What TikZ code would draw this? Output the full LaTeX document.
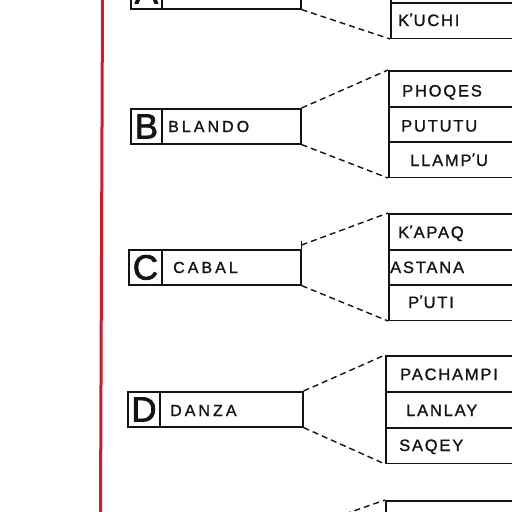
\documentclass[tikz,border=0pt]{standalone}
\usepackage{fontspec}
\setmainfont{Liberation Sans}
\newfontfamily\djv{DejaVu Sans}
\definecolor{redline}{RGB}{210,25,45}
\definecolor{ink}{RGB}{20,20,20}
\newcommand{\ap}{\kern-0.3pt{\djv\fontsize{14}{14}\selectfont\addfontfeature{FakeBold=1.5}\raisebox{2.5pt}{ʼ}}\kern0.3pt}
\begin{document}
\begin{tikzpicture}[x=1pt,y=-1pt,
  lbox/.style={draw=ink,line width=1.6pt,anchor=north west,inner sep=0pt,minimum height=35pt},
  cell/.style={draw=ink,line width=1.9pt,anchor=north west,inner sep=0pt,minimum height=35pt,text=ink,font=\fontsize{35}{35}\selectfont\addfontfeature{FakeBold=2}},
  rbox/.style={draw=ink,line width=1.5pt,anchor=north west,inner sep=0pt,minimum width=140pt,minimum height=35.5pt},
  rword/.style={anchor=base west,inner sep=0pt,text=ink,font=\fontsize{16.5}{16}\selectfont\addfontfeature{LetterSpace=11,FakeBold=1.2}},
  lword/.style={anchor=base west,inner sep=0pt,text=ink,font=\fontsize{16}{16}\selectfont\addfontfeature{LetterSpace=19,FakeBold=1.2}},
  conn/.style={draw=ink,line width=1.4pt,dash pattern=on 6pt off 4pt}]
\useasboundingbox (0,0) rectangle (512,512);
\clip (0,0) rectangle (512,512);
\fill[white] (0,0) rectangle (512,512);
% red margin line
\draw[redline,line width=3pt] (102.5,-2) -- (100.5,514);

% ---- A ----
\node[lbox,minimum width=170pt] (Abox) at (130,-27) {};
\node[cell,minimum width=31pt] (Acell) at (130,-27) {A};
\node[rbox] (A0) at (390,-34) {};
\node[rbox] (A1) at (390,2) {};
\node[rword] (A1t) at (398,26) {K\ap UCHI};
\draw[conn] (Abox.south east) -- (A1.south west);

% ---- B ----
\node[lbox,minimum width=170pt] (Bbox) at (130,108) {};
\node[cell,minimum width=31pt] (Bcell) at (130,108) {B};
\node[lword] (Bw) at (168,132) {BLANDO};
\node[rbox] (B1) at (388,70) {};
\node[rbox] (B2) at (388,106) {};
\node[rbox] (B3) at (388,141) {};
\node[rword] (B1t) at (402,96.5) {PHOQES};
\node[rword] (B2t) at (401,131.5) {PUTUTU};
\node[rword] (B3t) at (410,166) {LLAMP\ap U};
\draw[conn] (Bbox.north east) -- (B1.north west);
\draw[conn] (Bbox.south east) -- (B3.south west);

% ---- C ----
\node[lbox,minimum width=172pt] (Cbox) at (128,249) {};
\node[cell,minimum width=33pt] (Ccell) at (128,249) {C};
\node[lword] (Cw) at (173,273) {CABAL};
\node[rbox] (C1) at (388,213) {};
\node[rbox] (C2) at (388,249) {};
\node[rbox] (C3) at (388,284) {};
\node[rword] (C1t) at (398,238) {K\ap APAQ};
\node[rword] (C2t) at (390,273) {ASTANA};
\node[rword] (C3t) at (408,308) {P\ap UTI};
\draw[line width=1.5pt,ink] (Cbox.north east) -- ++(0,-8);
\draw[conn] ([yshift=4pt]Cbox.north east) -- (C1.north west);
\draw[conn] (Cbox.south east) -- (C3.south west);

% ---- D ----
\node[lbox,minimum width=175pt] (Dbox) at (127,391) {};
\node[cell,minimum width=32pt] (Dcell) at (127,391) {D};
\node[lword] (Dw) at (170,416) {DANZA};
\node[rbox] (D1) at (385,355) {};
\node[rbox] (D2) at (385,391) {};
\node[rbox] (D3) at (385,427) {};
\node[rword] (D1t) at (400,380) {PACHAMPI};
\node[rword] (D2t) at (406,416) {LANLAY};
\node[rword] (D3t) at (399,451) {SAQEY};
\draw[conn] (Dbox.north east) -- (D1.north west);
\draw[conn] (Dbox.south east) -- (D3.south west);

% ---- E (cut off) ----
\node[rbox] (E1) at (385,500) {};
\coordinate (Efree) at (345,514);
\draw[conn] (Efree) -- (E1.north west);
\end{tikzpicture}
\end{document}
